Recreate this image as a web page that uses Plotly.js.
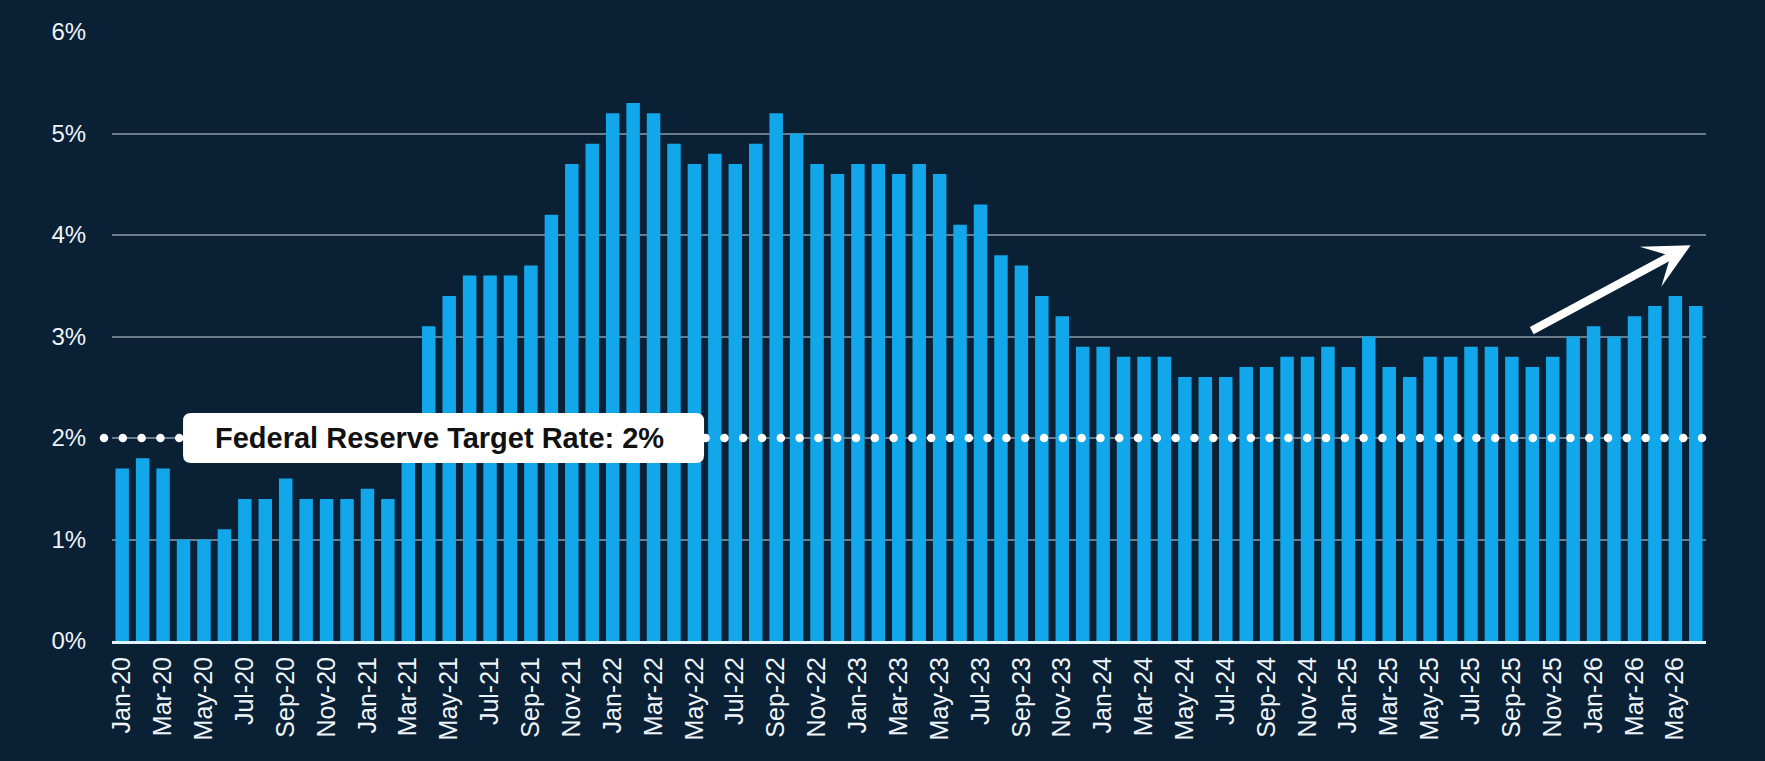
<!DOCTYPE html>
<html>
<head>
<meta charset="utf-8">
<script src="https://cdn.plot.ly/plotly-3.0.1.min.js"></script>
<style>
  html, body { margin: 0; padding: 0; background: #0a2035; }
  #myDiv { width: 1765px; height: 761px; }
</style>
</head>
<body>
<div id="myDiv"></div>
<script>
var monthNames = ['Jan', 'Feb', 'Mar', 'Apr', 'May', 'Jun', 'Jul', 'Aug', 'Sep', 'Oct', 'Nov', 'Dec'];
var years = ['20', '21', '22', '23', '24', '25', '26'];
var monthsInLastYear = 6;

var months = [];
years.forEach(function (yy, yi) {
  var n = (yi === years.length - 1) ? monthsInLastYear : 12;
  for (var m = 0; m < n; m++) months.push(monthNames[m] + '-' + yy);
});

var rate2020 = [1.7, 1.8, 1.7, 1.0, 1.0, 1.1, 1.4, 1.4, 1.6, 1.4, 1.4, 1.4];
var rate2021 = [1.5, 1.4, 2.0, 3.1, 3.4, 3.6, 3.6, 3.6, 3.7, 4.2, 4.7, 4.9];
var rate2022 = [5.2, 5.3, 5.2, 4.9, 4.7, 4.8, 4.7, 4.9, 5.2, 5.0, 4.7, 4.6];
var rate2023 = [4.7, 4.7, 4.6, 4.7, 4.6, 4.1, 4.3, 3.8, 3.7, 3.4, 3.2, 2.9];
var rate2024 = [2.9, 2.8, 2.8, 2.8, 2.6, 2.6, 2.6, 2.7, 2.7, 2.8, 2.8, 2.9];
var rate2025 = [2.7, 3.0, 2.7, 2.6, 2.8, 2.8, 2.9, 2.9, 2.8, 2.7, 2.8, 3.0];
var rate2026 = [3.1, 3.0, 3.2, 3.3, 3.4, 3.3];

var rates = [].concat(rate2020, rate2021, rate2022, rate2023, rate2024, rate2025, rate2026);

var targetRate = 2;
var yMax = 6;
var targetLabel = 'Federal Reserve Target Rate: 2%';

// every other month gets a label
var tickMonths = months.filter(function (m, i) { return i % 2 === 0; });

var trace1 = {
  x: months,
  y: rates,
  type: 'bar',
  marker: { color: '#11a7ea' },
  hoverinfo: 'skip'
};

var font = 'Liberation Sans, Arial, Helvetica, sans-serif';

var layout = {
  width: 1765,
  height: 761,
  margin: { l: 112, r: 59, t: 32, b: 120 },
  paper_bgcolor: '#0a2035',
  plot_bgcolor: '#0a2035',
  showlegend: false,
  bargap: 0.34,
  font: { family: font, color: '#eef5fa', size: 24 },
  xaxis: {
    type: 'category',
    tickmode: 'array',
    tickvals: tickMonths,
    ticktext: tickMonths,
    tickangle: -90,
    tickfont: { size: 25, color: '#eef5fa' },
    ticks: 'outside',
    ticklen: 3,
    tickcolor: 'rgba(0,0,0,0)',
    showgrid: false,
    showline: true,
    linecolor: '#dff4ff',
    linewidth: 3,
    range: [-0.5, months.length - 0.5],
    fixedrange: true
  },
  yaxis: {
    range: [0, yMax],
    dtick: 1,
    ticksuffix: '%',
    tickfont: { size: 24, color: '#eef5fa' },
    ticks: 'outside',
    ticklen: 20,
    tickcolor: 'rgba(0,0,0,0)',
    showgrid: true,
    gridcolor: '#6a7b89',
    gridwidth: 2,
    zeroline: false,
    fixedrange: true
  },
  shapes: [
    {
      type: 'line',
      xref: 'paper', yref: 'paper',
      x0: -0.005, x1: 1,
      y0: targetRate / yMax, y1: targetRate / yMax,
      line: { color: '#ffffff', width: 8.5, dash: '0px,18.8px' }
    },
    {
      type: 'path',
      xref: 'paper', yref: 'paper',
      xsizemode: 'pixel', ysizemode: 'pixel',
      xanchor: 0.208, yanchor: targetRate / yMax,
      path: 'M -252.5,-25 L 252.5,-25 Q 260.5,-25 260.5,-17 L 260.5,17 Q 260.5,25 252.5,25 ' +
            'L -252.5,25 Q -260.5,25 -260.5,17 L -260.5,-17 Q -260.5,-25 -252.5,-25 Z',
      fillcolor: '#ffffff',
      line: { width: 0 }
    }
  ],
  annotations: [
    {
      xref: 'paper', yref: 'paper',
      x: 0.2055, y: targetRate / yMax,
      xanchor: 'center', yanchor: 'middle',
      text: '<b>' + targetLabel + '</b>',
      showarrow: false,
      font: { family: font, size: 29, color: '#111111' }
    },
    {
      xref: 'x', yref: 'y', axref: 'x', ayref: 'y',
      x: 76.75, y: 3.9,
      ax: 68.9, ay: 3.05,
      text: '',
      showarrow: true,
      arrowhead: 3,
      arrowsize: 0.95,
      arrowwidth: 8,
      arrowcolor: '#ffffff'
    }
  ]
};

Plotly.newPlot('myDiv', [trace1], layout, { displayModeBar: false, staticPlot: true }).then(function () {
  // round line caps turn the zero-length dashes into dots
  var paths = document.querySelectorAll('.shapelayer path');
  if (paths.length) {
    paths[0].style.strokeLinecap = 'round';
  }
});
</script>
</body>
</html>
